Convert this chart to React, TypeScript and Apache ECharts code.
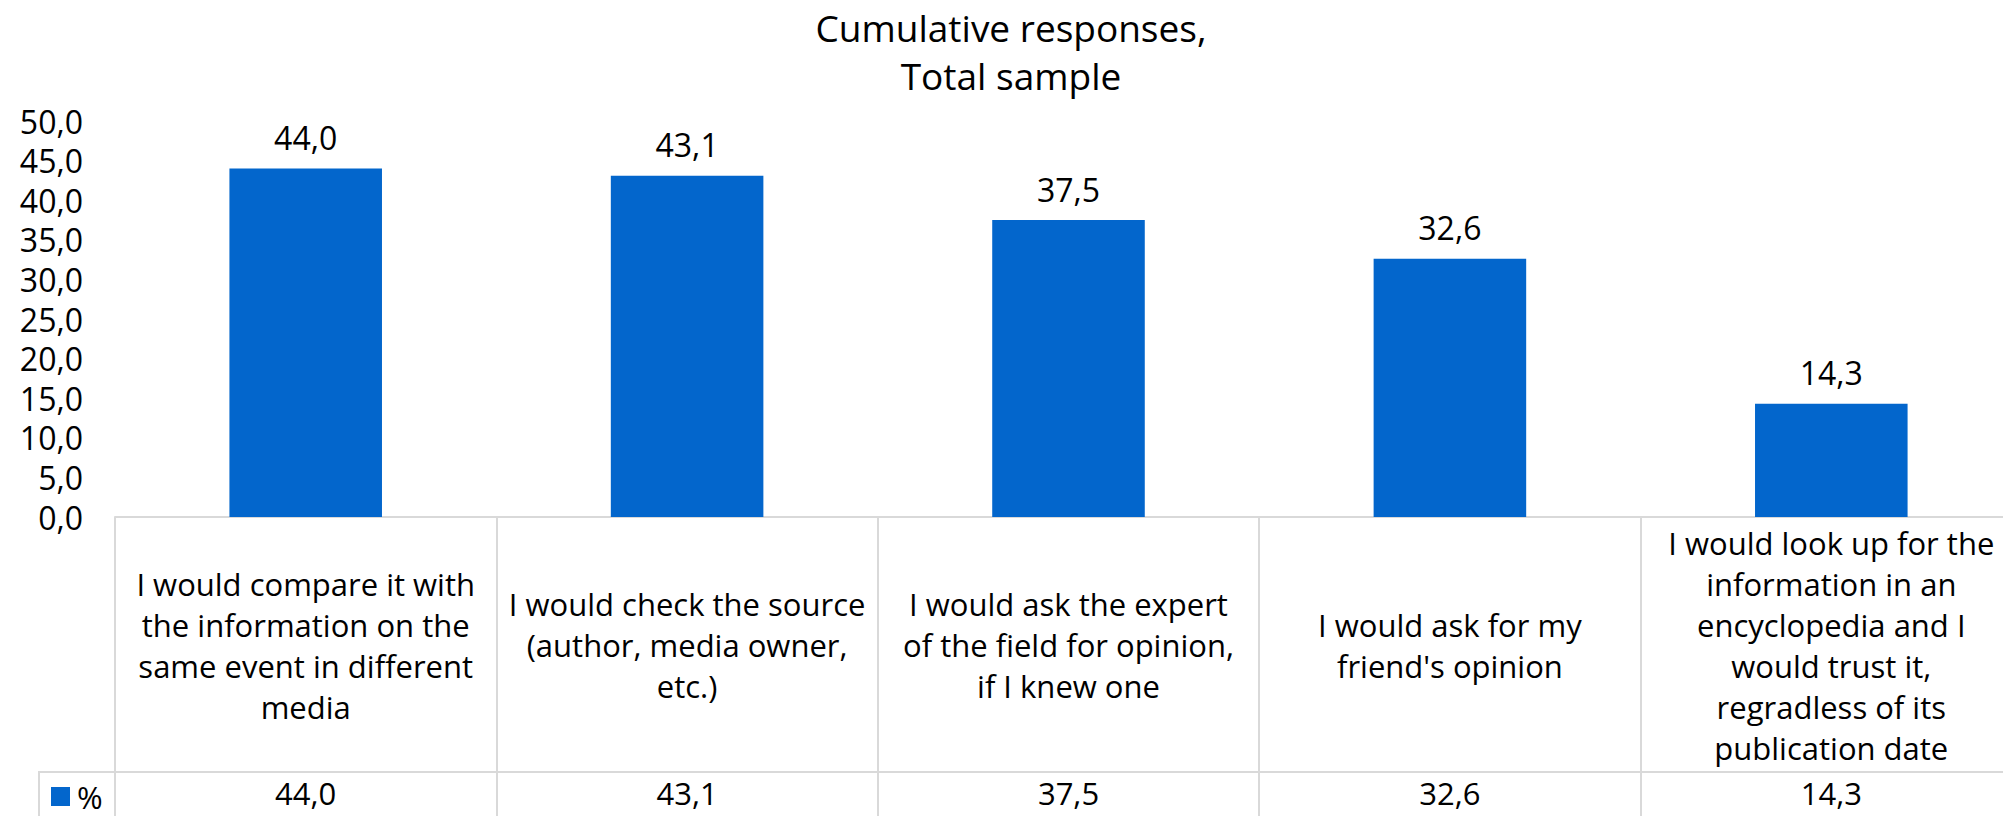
import React, { useEffect, useRef } from "react";
import * as echarts from "echarts";

// Response options (line breaks as shown in the table cells)
const categories: string[] = [
  "I would compare it with\nthe information on the\nsame event in different\nmedia",
  "I would check the source\n(author, media owner,\netc.)",
  "I would ask the expert\nof the field for opinion,\nif I knew one",
  "I would ask for my\nfriend's opinion",
  "I would look up for the\ninformation in an\nencyclopedia and I\nwould trust it,\nregradless of its\npublication date",
];

// Share of respondents, %
const values: number[] = [44.0, 43.1, 37.5, 32.6, 14.3];

const seriesName = "%";
const titleLines: string[] = ["Cumulative responses,", "Total sample"];

const yMin = 0;
const yMax = 50;
const yStep = 5;

const FONT = "'Open Sans', 'DejaVu Sans', sans-serif";
const BAR_COLOR = "#0366CC";
const GRID_COLOR = "#D9D9D9";

// Decimal comma, one digit
const fmt = (v: number) => v.toFixed(1).replace(".", ",");

export default function App() {
  const ref = useRef<HTMLDivElement>(null);

  useEffect(() => {
    if (!ref.current) return;
    const chart = echarts.init(ref.current, undefined, { renderer: "svg" });

    const gridLeft = 115;
    const gridTop = 121;
    const axisY = 517;
    const rowY = 772;
    const height = 816;

    chart.setOption({
      animation: false,
      backgroundColor: "#ffffff",
      title: {
        text: titleLines.join("\n"),
        left: "center",
        top: 3,
        padding: 0,
        textStyle: {
          fontFamily: FONT,
          fontSize: 37,
          fontWeight: "normal",
          color: "#000000",
          lineHeight: 48,
        },
      },
      legend: {
        data: [seriesName],
        left: 51,
        top: 781,
        padding: 0,
        itemWidth: 19,
        itemHeight: 19,
        icon: "rect",
        selectedMode: false,
        textStyle: {
          fontFamily: FONT,
          fontSize: 31,
          lineHeight: 30,
          color: "#000000",
          padding: [0, 0, 0, 2],
        },
      },
      grid: {
        left: gridLeft,
        right: -8,
        top: gridTop,
        bottom: height - axisY,
        containLabel: false,
      },
      xAxis: [
        {
          type: "category",
          data: categories,
          position: "bottom",
          boundaryGap: true,
          axisLine: { show: true, lineStyle: { color: GRID_COLOR, width: 2 } },
          axisTick: {
            show: true,
            interval: 0,
            length: height - axisY,
            lineStyle: { color: GRID_COLOR, width: 2 },
          },
          axisLabel: {
            interval: 0,
            margin: 128,
            verticalAlign: "middle",
            align: "center",
            fontFamily: FONT,
            fontSize: 31,
            lineHeight: 41,
            color: "#000000",
          },
          splitLine: { show: false },
        },
        {
          type: "category",
          data: values.map(fmt),
          position: "bottom",
          offset: rowY - axisY,
          boundaryGap: true,
          axisLine: { show: false },
          axisTick: { show: false },
          axisLabel: {
            interval: 0,
            margin: 21,
            verticalAlign: "middle",
            align: "center",
            fontFamily: FONT,
            fontSize: 31,
            lineHeight: 30,
            color: "#000000",
          },
          splitLine: { show: false },
        },
      ],
      yAxis: {
        type: "value",
        min: yMin,
        max: yMax,
        interval: yStep,
        axisLine: { show: false },
        axisTick: { show: false },
        splitLine: { show: false },
        axisLabel: {
          margin: 32,
          fontFamily: FONT,
          fontSize: 32,
          color: "#000000",
          formatter: (v: number) => fmt(v),
        },
      },
      series: [
        {
          name: seriesName,
          type: "bar",
          xAxisIndex: 0,
          data: values,
          barWidth: "40%",
          itemStyle: { color: BAR_COLOR },
          label: {
            show: true,
            position: "top",
            distance: 15,
            fontFamily: FONT,
            fontSize: 32,
            color: "#000000",
            formatter: (p: any) => fmt(p.value),
          },
        },
      ],
      graphic: [
        // horizontal rule between the category row and the value row
        {
          type: "line",
          shape: { x1: 38, y1: rowY, x2: 2040, y2: rowY },
          style: { stroke: GRID_COLOR, lineWidth: 2 },
          silent: true,
        },
        // left border of the legend cell
        {
          type: "line",
          shape: { x1: 39, y1: rowY, x2: 39, y2: height },
          style: { stroke: GRID_COLOR, lineWidth: 2 },
          silent: true,
        },
      ],
    });

    return () => chart.dispose();
  }, []);

  return (
    <div
      style={{
        position: "fixed",
        left: 0,
        top: 0,
        width: 2003,
        height: 816,
        overflow: "hidden",
        background: "#ffffff",
      }}
    >
      <div ref={ref} style={{ width: 2022, height: 816 }} />
    </div>
  );
}
